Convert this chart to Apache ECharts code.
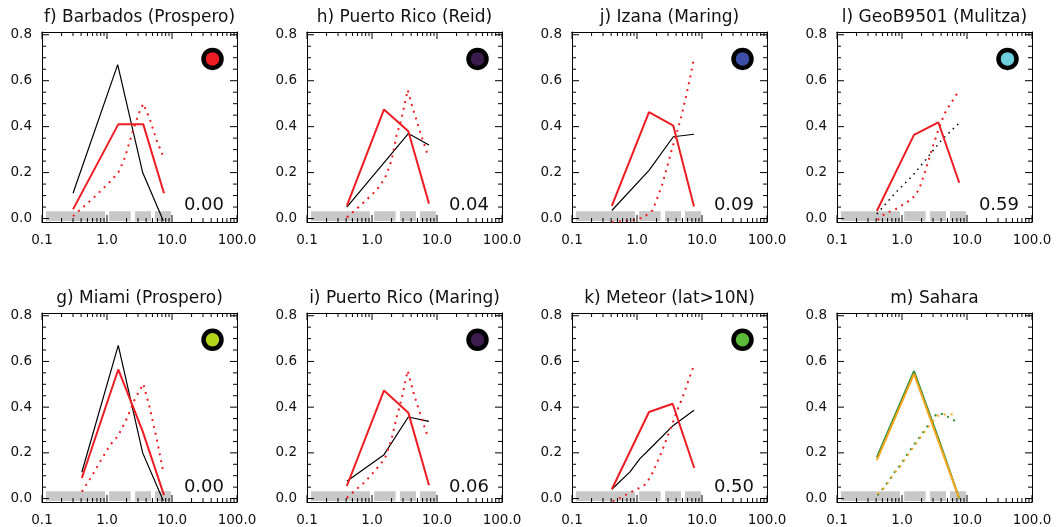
<!DOCTYPE html>
<html><head><meta charset="utf-8">
<script src="https://cdn.jsdelivr.net/npm/echarts@6/dist/echarts.min.js"></script>
<style>html,body{margin:0;padding:0;background:#fff}#c{width:1058px;height:527px}</style>
</head><body><div id="c"></div>
<script>
// ---- panel labels ----
const titles = ['f) Barbados (Prospero)', 'h) Puerto Rico (Reid)', 'j) Izana (Maring)', 'l) GeoB9501 (Mulitza)',
                'g) Miami (Prospero)', 'i) Puerto Rico (Maring)', 'k) Meteor (lat>10N)', 'm) Sahara'];
const scores = ['0.00', '0.04', '0.09', '0.59', '0.00', '0.06', '0.50', ''];
const dotColors = ['#ee1c24', '#3c1c4c', '#3c4ea6', '#6ccfdc', '#b4d41c', '#3c1c4c', '#5cbc3a', null];
const dotPos = [42, 0.695];

// ---- size bins (grey bars) ----
const binLo = [0.115, 1.08, 2.70, 5.47];
const binHi = [0.93, 2.31, 4.75, 9.66];
const barBottom = -0.011;
const barTop = 0.032;

// ---- ticks ----
const xTickValues = [0.1, 1, 10, 100];
const xMinorValues = [0.2, 0.3, 0.4, 0.5, 0.6, 0.7, 0.8, 0.9, 2, 3, 4, 5, 6, 7, 8, 9, 20, 30, 40, 50, 60, 70, 80, 90];
const yTickValues = [0, 0.2, 0.4, 0.6, 0.8];
const yMinorValues = [0.05, 0.1, 0.15, 0.25, 0.3, 0.35, 0.45, 0.5, 0.55, 0.65, 0.7, 0.75];

// ---- f) Barbados ----
const f_obs = [[0.30, 0.11], [1.46, 0.67], [3.54, 0.20], [7.35, -0.01]];
const f_red = [[0.30, 0.04], [1.49, 0.41], [3.62, 0.41], [7.53, 0.11]];
const f_mod = [[0.30, 0.01], [0.62, 0.09], [1.11, 0.16], [1.49, 0.20], [1.83, 0.255], [2.26, 0.34], [2.70, 0.41], [3.22, 0.47], [3.62, 0.50], [4.59, 0.43], [5.81, 0.34], [7.35, 0.27]];
// ---- h) Puerto Rico (Reid) ----
const h_obs = [[0.41, 0.05], [1.50, 0.24], [3.62, 0.37], [7.53, 0.32]];
const h_red = [[0.41, 0.055], [1.53, 0.475], [3.62, 0.38], [7.53, 0.065]];
const h_mod = [[0.41, 0.005], [0.55, 0.036], [0.83, 0.083], [1.18, 0.124], [1.58, 0.175], [2.01, 0.255], [2.40, 0.364], [2.86, 0.437], [3.54, 0.56], [4.32, 0.473], [5.81, 0.356], [7.35, 0.27]];
// ---- j) Izana ----
const j_obs = [[0.41, 0.035], [1.53, 0.21], [3.62, 0.356], [7.53, 0.367]];
const j_red = [[0.41, 0.055], [1.53, 0.463], [3.62, 0.404], [7.53, 0.052]];
const j_mod = [[0.41, -0.015], [0.78, -0.01], [1.25, 0.004], [1.74, 0.036], [2.08, 0.094], [2.48, 0.153], [2.86, 0.218], [3.41, 0.298], [4.08, 0.371], [4.87, 0.451], [5.67, 0.531], [6.54, 0.611], [7.35, 0.684]];
// ---- l) GeoB9501 ----
const l_obs = [[0.41, 0.02], [0.78, 0.11], [1.49, 0.19], [2.54, 0.27], [4.08, 0.342], [7.53, 0.415]];
const l_red = [[0.41, 0.033], [1.53, 0.364], [3.62, 0.419], [7.60, 0.156]];
const l_mod = [[0.42, -0.007], [0.55, 0.022], [0.78, 0.039], [1.11, 0.066], [1.33, 0.08], [1.62, 0.102], [1.89, 0.138], [2.31, 0.211], [2.86, 0.298], [3.62, 0.386], [4.48, 0.455], [5.30, 0.49], [6.40, 0.525], [7.60, 0.56]];
// ---- g) Miami ----
const g_obs = [[0.41, 0.115], [1.49, 0.67], [3.54, 0.20], [7.35, -0.01]];
const g_red = [[0.41, 0.09], [1.49, 0.565], [3.54, 0.294], [7.53, 0.015]];
const g_mod = [[0.41, 0.03], [0.55, 0.087], [0.78, 0.16], [1.11, 0.233], [1.49, 0.276], [2.01, 0.349], [2.70, 0.437], [3.62, 0.502], [4.59, 0.393], [5.81, 0.262], [7.35, 0.117]];
// ---- i) Puerto Rico (Maring) ----
const i_obs = [[0.41, 0.076], [1.53, 0.192], [3.62, 0.357], [7.53, 0.338]];
const i_red = [[0.41, 0.055], [1.53, 0.473], [3.62, 0.376], [7.53, 0.058]];
const i_mod = [[0.41, 0.003], [0.55, 0.036], [0.78, 0.073], [1.18, 0.131], [1.58, 0.175], [2.01, 0.262], [2.40, 0.357], [2.86, 0.437], [3.54, 0.56], [4.32, 0.466], [5.81, 0.349], [7.35, 0.265]];
// ---- k) Meteor ----
const k_obs = [[0.41, 0.041], [0.78, 0.117], [1.11, 0.175], [1.58, 0.218], [3.62, 0.32], [7.53, 0.386]];
const k_red = [[0.41, 0.041], [1.53, 0.379], [3.54, 0.415], [7.60, 0.134]];
const k_mod = [[0.42, -0.012], [0.55, 0.003], [0.78, 0.026], [1.04, 0.044], [1.33, 0.061], [1.62, 0.095], [1.95, 0.145], [2.40, 0.204], [2.86, 0.262], [3.41, 0.32], [4.08, 0.379], [5.04, 0.444], [5.94, 0.502], [7.35, 0.575]];
// ---- m) Sahara ----
const m_green = [[0.41, 0.18], [1.53, 0.558], [3.60, 0.266], [7.60, 0.0]];
const m_orange = [[0.41, 0.168], [1.53, 0.546], [3.60, 0.255], [7.53, 0.003]];
const m_green_mod = [[0.42, 0.014], [0.52, 0.047], [0.63, 0.079], [0.76, 0.114], [0.93, 0.145], [1.11, 0.178], [1.33, 0.211], [1.62, 0.245], [1.95, 0.276], [2.34, 0.309], [3.41, 0.371], [4.32, 0.37], [5.67, 0.349], [7.53, 0.332]];
const m_orange_mod = [[0.42, 0.02], [0.52, 0.045], [0.63, 0.075], [0.76, 0.11], [0.93, 0.14], [1.11, 0.172], [1.33, 0.205], [1.62, 0.238], [1.95, 0.27], [2.34, 0.30], [3.50, 0.362], [4.50, 0.368], [6.80, 0.37]];

const RED = '#ee1d23', GREEN = '#2f8f3a', ORANGE = '#f7a51c';
const panels = [
  {obs: f_obs, red: f_red, mod: f_mod},
  {obs: h_obs, red: h_red, mod: h_mod},
  {obs: j_obs, red: j_red, mod: j_mod},
  {obs: l_obs, red: l_red, mod: l_mod, obsDotted: true},
  {obs: g_obs, red: g_red, mod: g_mod},
  {obs: i_obs, red: i_red, mod: i_mod},
  {obs: k_obs, red: k_red, mod: k_mod},
  {sahara: true}
];

const FONT = 'DejaVu Sans';
const gridLeft = [42, 307, 572, 837];
const gridTop = [32, 313];
const gridW = 195;
const gridH = [190, 191];
const Y_MIN = -0.015, Y_MAX = 0.812;
const MAJOR_LEN = 7, MINOR_LEN = 4;
const TICK_FONT = 13.5;

const grids = [], xAxes = [], yAxes = [], series = [], gelems = [];
const majorLog = xTickValues.map(v => Math.log10(v));

panels.forEach((p, i) => {
  const col = i % 4, row = Math.floor(i / 4);
  const L = gridLeft[col], T = gridTop[row], W = gridW, H = gridH[row];
  grids.push({left: L, top: T, width: W, height: H, containLabel: false});
  const xb = xAxes.length, yb = yAxes.length;
  // data x axis (log)
  xAxes.push({type: 'log', logBase: 10, gridIndex: i, min: 0.1, max: 100, show: false, axisLine: {onZero: false}});
  const ovX = (pos, labels) => ({
    type: 'value', gridIndex: i, position: pos, min: -1, max: 2, silent: true,
    axisLine: {show: true, onZero: false, lineStyle: {color: '#000', width: 1}},
    axisTick: {show: false},
    axisLabel: labels ? {show: true, customValues: majorLog, margin: 11, fontSize: TICK_FONT, fontFamily: FONT, color: '#111',
      formatter: v => Math.pow(10, v).toFixed(1)} : {show: false},
    splitLine: {show: false}
  });
  xAxes.push(ovX('bottom', true));
  xAxes.push(ovX('top', false));
  const yAx = (pos, labels) => ({
    type: 'value', gridIndex: i, position: pos, min: Y_MIN, max: Y_MAX,
    axisLine: {show: true, onZero: false, lineStyle: {color: '#000', width: 1}},
    axisTick: {show: false},
    axisLabel: labels ? {show: true, customValues: yTickValues, margin: 10, fontSize: TICK_FONT, fontFamily: FONT, color: '#111',
      formatter: v => v.toFixed(1)} : {show: false},
    splitLine: {show: false}
  });
  yAxes.push(yAx('left', true));
  yAxes.push(yAx('right', false));

  // grey size-bin bars
  series.push({
    type: 'custom', xAxisIndex: xb, yAxisIndex: yb, z: 1, silent: true,
    data: binLo.map((lo, k) => [lo, binHi[k], barBottom, barTop]),
    encode: {x: [0, 1], y: [2, 3]},
    renderItem: (params, api) => {
      const a = api.coord([api.value(0), api.value(3)]);
      const b = api.coord([api.value(1), api.value(2)]);
      return {type: 'rect', shape: {x: a[0], y: a[1], width: b[0] - a[0], height: b[1] - a[1]}, style: {fill: '#c8c8c8'}};
    }
  });
  // inward ticks on all four sides, placed by the axes' own scales
  const xt = xTickValues.map(v => [v, 1]).concat(xMinorValues.map(v => [v, 0]));
  series.push({
    type: 'custom', xAxisIndex: xb, yAxisIndex: yb, z: 6, silent: true, clip: false,
    data: xt, encode: {x: 0},
    renderItem: (params, api) => {
      const v = api.value(0), len = api.value(1) ? MAJOR_LEN : MINOR_LEN;
      const b = api.coord([v, Y_MIN]), t = api.coord([v, Y_MAX]);
      const st = {stroke: '#000', lineWidth: 1};
      return {type: 'group', children: [
        {type: 'line', shape: {x1: b[0], y1: b[1], x2: b[0], y2: b[1] - len}, style: st},
        {type: 'line', shape: {x1: t[0], y1: t[1], x2: t[0], y2: t[1] + len}, style: st}
      ]};
    }
  });
  const yt = yTickValues.map(v => [0.1, v, 1]).concat(yMinorValues.map(v => [0.1, v, 0]));
  series.push({
    type: 'custom', xAxisIndex: xb, yAxisIndex: yb, z: 6, silent: true, clip: false,
    data: yt, encode: {x: 0, y: 1},
    renderItem: (params, api) => {
      const v = api.value(1), len = api.value(2) ? MAJOR_LEN : MINOR_LEN;
      const l = api.coord([0.1, v]), r = api.coord([100, v]);
      const st = {stroke: '#000', lineWidth: 1};
      return {type: 'group', children: [
        {type: 'line', shape: {x1: l[0], y1: l[1], x2: l[0] + len, y2: l[1]}, style: st},
        {type: 'line', shape: {x1: r[0], y1: r[1], x2: r[0] - len, y2: r[1]}, style: st}
      ]};
    }
  });
  const line = (data, color, width, type, z) => ({
    type: 'line', xAxisIndex: xb, yAxisIndex: yb, data: data, symbol: 'none', showSymbol: false, z: z,
    lineStyle: {color: color, width: width, type: type, cap: 'butt'}, clip: true, silent: true
  });
  if (p.sahara) {
    series.push(line(m_green, GREEN, 2, 'solid', 3));
    series.push(line(m_orange, ORANGE, 2, 'solid', 4));
    series.push(line(m_green_mod, GREEN, 2, [2, 5], 3));
    series.push(line(m_orange_mod, ORANGE, 2, [2, 5], 4));
  } else {
    series.push(line(p.obs, '#000', p.obsDotted ? 1.5 : 1.2, p.obsDotted ? [1.5, 4.5] : 'solid', 3));
    series.push(line(p.red, RED, 2, 'solid', 4));
    series.push(line(p.mod, RED, 2, [2, 5], 4));
  }
  if (dotColors[i]) {
    series.push({
      type: 'scatter', xAxisIndex: xb, yAxisIndex: yb, data: [dotPos], symbol: 'circle', symbolSize: 18, z: 5, silent: true,
      itemStyle: {color: dotColors[i], borderColor: '#000', borderWidth: 4.5, opacity: 1}
    });
  }
  gelems.push({type: 'text', x: L + W / 2, y: T - 14, silent: true,
    style: {text: titles[i], font: '17px "' + FONT + '"', fill: '#111', textAlign: 'center', align: 'center', textVerticalAlign: 'middle', verticalAlign: 'middle'}});
  if (scores[i]) {
    gelems.push({type: 'text', x: L + W - 13, y: T + H - 8, silent: true,
      style: {text: scores[i], font: '18px "' + FONT + '"', fill: '#111', textAlign: 'right', align: 'right', textVerticalAlign: 'bottom', verticalAlign: 'bottom'}});
  }
});

const chart = echarts.init(document.getElementById('c'), null, {renderer: 'canvas'});
chart.setOption({
  animation: false,
  backgroundColor: '#fff',
  grid: grids, xAxis: xAxes, yAxis: yAxes, series: series,
  graphic: {elements: gelems}
});
</script></body></html>
